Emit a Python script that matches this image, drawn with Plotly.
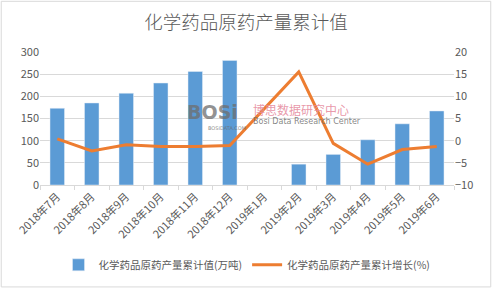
import plotly.graph_objects as go

categories = ["2018年7月", "2018年8月", "2018年9月", "2018年10月", "2018年11月", "2018年12月",
              "2019年1月", "2019年2月", "2019年3月", "2019年4月", "2019年5月", "2019年6月"]
cumulative_value = [173, 185, 207, 230, 256, 281, None, 47, 69, 102, 138, 167]
cumulative_growth = [0.4, -2.3, -0.9, -1.3, -1.3, -1.1, None, 15.5, -0.6, -5.3, -2.0, -1.3]

title_text = "化学药品原药产量累计值"
bar_name = "化学药品原药产量累计值(万吨)"
line_name = "化学药品原药产量累计增长(%)"

font_family = "Noto Sans CJK SC, Microsoft YaHei, sans-serif"
gray = "#595959"
grid = "#d9d9d9"

fig = go.Figure()
fig.add_trace(go.Bar(x=categories, y=cumulative_value, name=bar_name,
                     marker=dict(color="#5B9BD5"), width=0.42, yaxis="y"))
fig.add_trace(go.Scatter(x=categories, y=cumulative_growth, name=line_name, mode="lines",
                         line=dict(color="#ED7D31", width=3), connectgaps=True, yaxis="y2"))

fig.update_layout(
    width=492, height=291,
    margin=dict(l=40, r=38, t=52, b=104),
    paper_bgcolor="white", plot_bgcolor="white",
    font=dict(family=font_family, color=gray, size=11),
    title=dict(text=title_text, x=0.5, xanchor="center", y=1 - 23 / 291, yanchor="middle",
               font=dict(size=18.5, color=gray, family=font_family, weight=300)),
    xaxis=dict(tickangle=-45, showgrid=False, showline=True, linecolor=grid,
               ticks="outside", tickson="boundaries", tickcolor=grid, ticklen=4,
               tickfont=dict(size=11, color=gray)),
    yaxis=dict(range=[0, 300], dtick=50, showgrid=True, gridcolor=grid, zeroline=False,
               tickfont=dict(size=11, color=gray)),
    yaxis2=dict(range=[-10, 20], dtick=5, overlaying="y", side="right", showgrid=False,
                zeroline=False, tickfont=dict(size=11, color=gray)),
    legend=dict(orientation="h", x=0.5, xanchor="center", y=-0.6, yanchor="middle",
                font=dict(size=10.5, color=gray), itemwidth=30),
    bargap=0.5,
    showlegend=True,
)

# watermark
fig.add_annotation(xref="paper", yref="paper", x=(185 - 40) / 414, y=(187 - 113) / 135,
                   text="<b>BOSi</b>", showarrow=False, xanchor="left", yanchor="middle",
                   font=dict(size=19, color="rgba(110,110,110,0.75)", family="DejaVu Sans"))
fig.add_annotation(xref="paper", yref="paper", x=(206 - 40) / 414, y=(187 - 129) / 135,
                   text="BOSIDATA.COM", showarrow=False, xanchor="left", yanchor="middle",
                   font=dict(size=5, color="rgba(110,110,110,0.8)", family="DejaVu Sans"))
fig.add_annotation(xref="paper", yref="paper", x=(251 - 40) / 414, y=(187 - 110) / 135,
                   text="博思数据研究中心", showarrow=False, xanchor="left", yanchor="middle",
                   font=dict(size=12, color="rgba(230,140,160,0.9)", family=font_family))
fig.add_annotation(xref="paper", yref="paper", x=(251 - 40) / 414, y=(187 - 123) / 135,
                   text="Bosi Data Research Center", showarrow=False, xanchor="left", yanchor="middle",
                   font=dict(size=8, color="rgba(110,110,110,0.85)", family="DejaVu Sans"))

fig.add_shape(type="rect", xref="paper", yref="paper",
              x0=-40 / 414 + 0.003, x1=1 + 38 / 414 - 0.003,
              y0=-104 / 135 + 0.004, y1=1 + 52 / 135 - 0.004,
              line=dict(color="#d9d9d9", width=1), layer="below")

fig.write_html("out.html")
